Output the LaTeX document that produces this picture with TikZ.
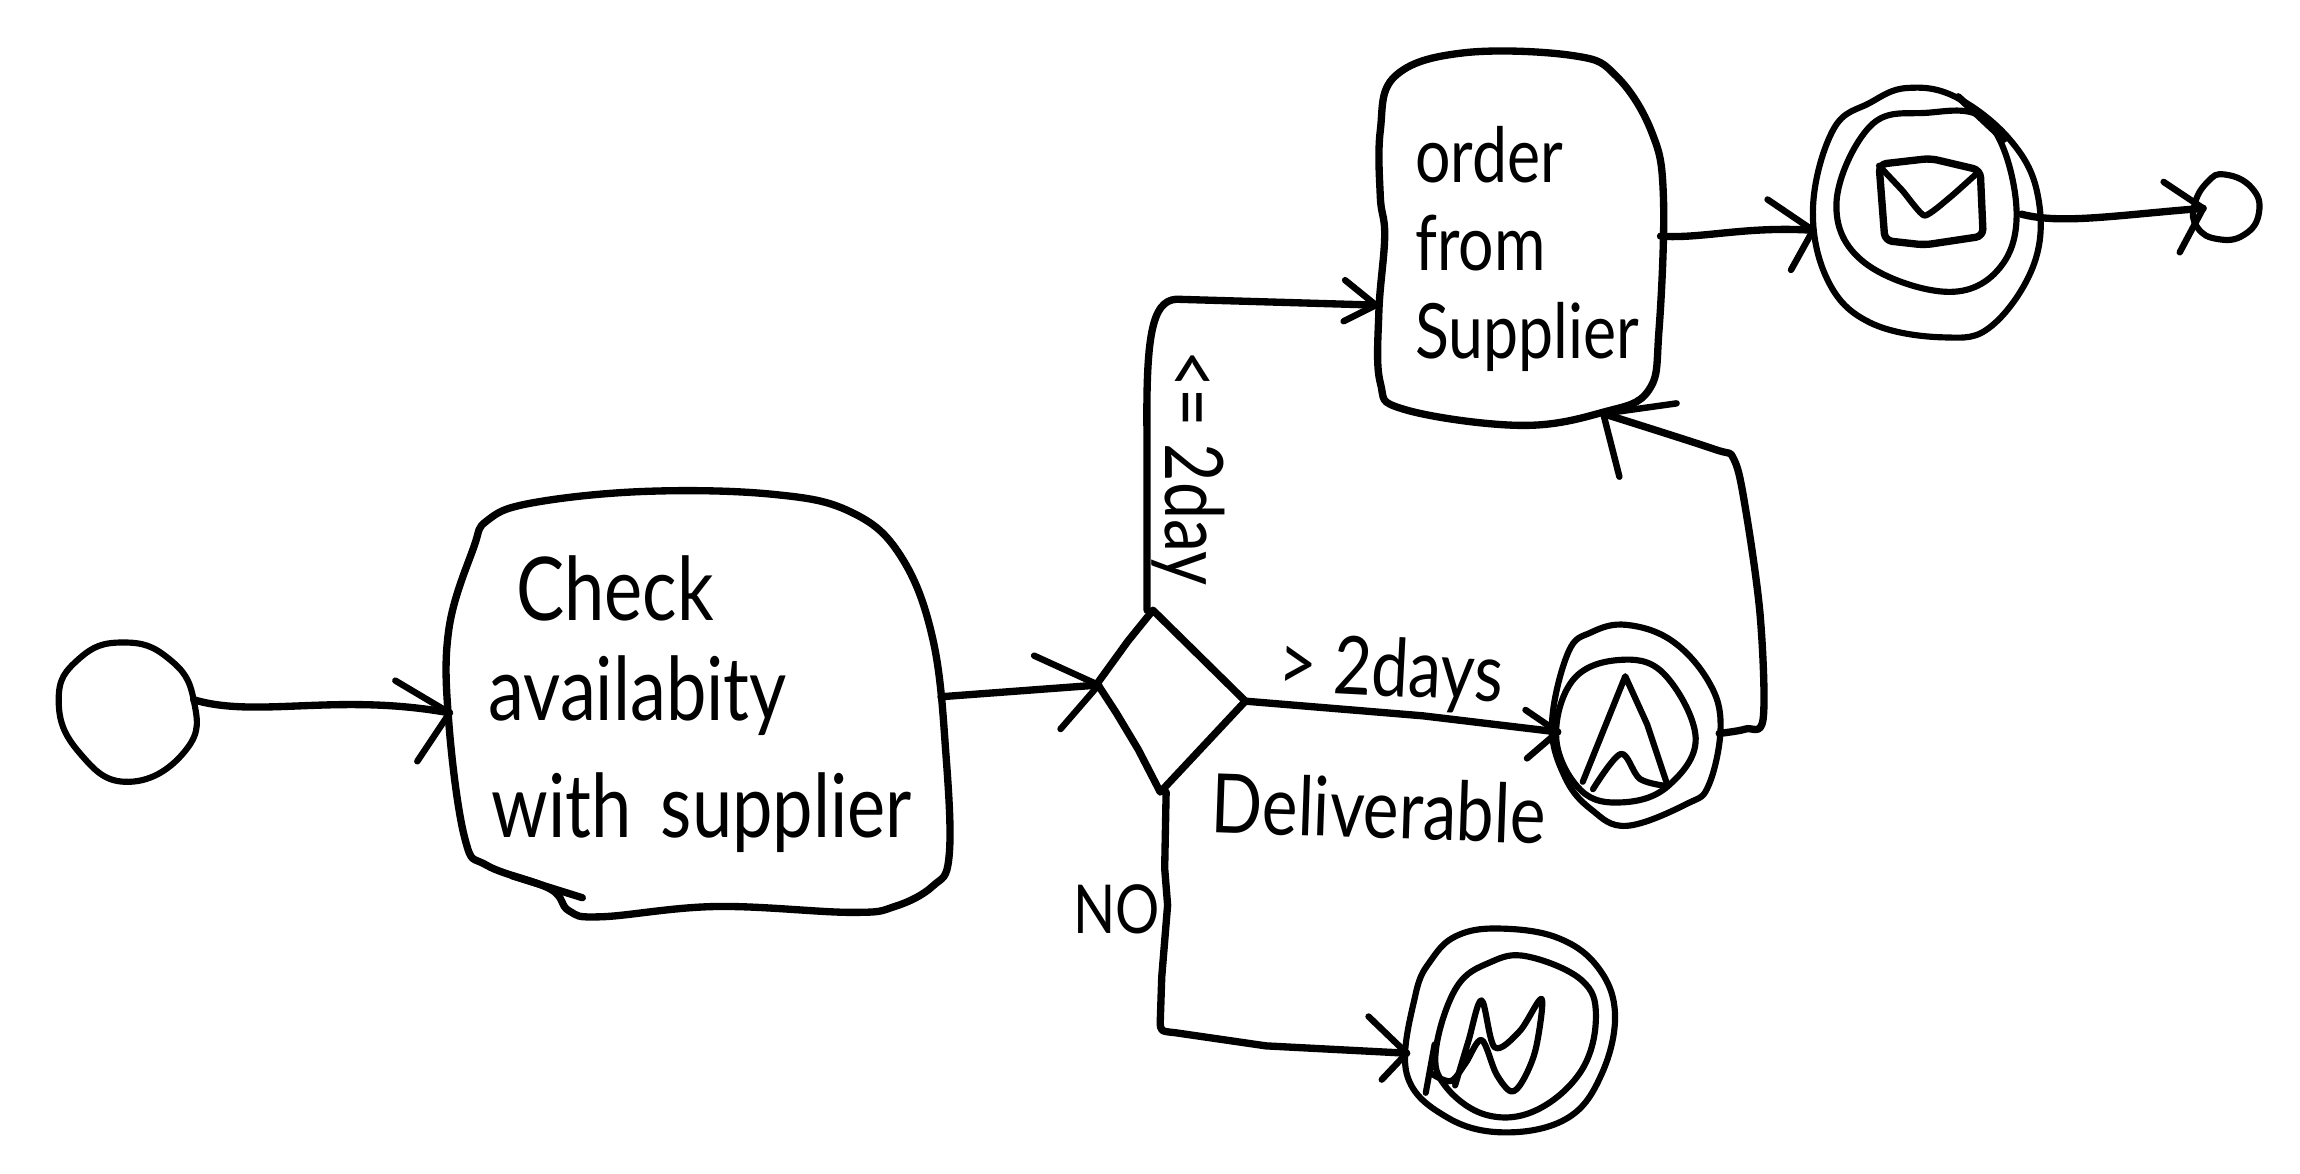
\documentclass[tikz,border=0pt]{standalone}
\usepackage{fontspec}
\setmainfont{Lato}
\newfontfamily\hand[FakeStretch=0.82]{Lato}
\newcommand{\handsz}[1]{\fontsize{#1}{#1}\selectfont\hand}
\tikzset{
  ink/.style={line width=5pt,line cap=round,line join=round,black},
  thinink/.style={line width=4.2pt,line cap=round,line join=round,black},
  flow/.style={ink},
  barb/.style={line width=4.4pt,line cap=round,line join=round,black},
  anchorbox/.style={draw=none,inner sep=0pt,outer sep=0pt,rectangle},
  tasktext/.style={anchorbox,align=left,text=black},
  lbl/.style={inner sep=0pt,outer sep=0pt,text=black},
  loop/.style={smooth cycle,tension=0.65},
  wave/.style={smooth,tension=0.55}
}
\begin{document}
\begin{tikzpicture}[x=1pt,y=-1pt]
\useasboundingbox (0,0) rectangle (1568,800);

% named nodes (their outlines are hand-drawn below)
\node[anchorbox,minimum width=92pt,minimum height=96pt] (start) at (86,485) {};
\node[tasktext,minimum width=335pt,minimum height=290pt,text width=310pt,font=\handsz{60}] (check) at (474,480)
  {\hspace*{33pt}Check\\[8pt]\hspace*{14pt}availabity\\[20pt]\hspace*{16pt}with supplier};
\node[tasktext,minimum width=194pt,minimum height=255pt,text width=170pt,font=\handsz{52}] (order) at (1035,170)
  {\hspace*{15pt}order\\[8pt]\hspace*{15pt}from\\[8pt]\hspace*{15pt}Supplier};
\node[anchorbox,minimum width=100pt,minimum height=124pt] (gate) at (799,478) {};
\node[anchorbox,minimum width=152pt,minimum height=170pt] (mail) at (1312,146) {};
\node[anchorbox,minimum width=44pt,minimum height=46pt] (finish) at (1518,142) {};
\node[anchorbox,minimum width=114pt,minimum height=136pt] (comp) at (1115,494) {};
\node[anchorbox,minimum width=142pt,minimum height=140pt] (stop) at (1030,702) {};

% outlines
\draw[thinink] plot[smooth cycle,tension=0.8] coordinates {(84,438) (115,449) (132,477) (127,511) (88,533) (54,513) (40,477) (54,449)};
\draw[ink] plot[loop] coordinates {(332,355) (362,343) (440,335) (527,337) (580,349) (614,379) (636,436) (645,516) (647,584) (636,604) (610,618) (580,622) (488,618) (410,625) (388,621) (375,606) (332,590) (317,572) (306,493) (306,429) (323,373)};
\draw[ink] (349,597) -- (397,612);
\draw[ink] plot[loop] coordinates {(941,89) (951,52) (998,36) (1073,38) (1102,52) (1126,90) (1134,134) (1131,225) (1124,266) (1093,281) (1036,290) (957,279) (941,261) (940,213) (944,161) (941,134)};
\draw[ink] (786,416) -- (849,478) -- (791,540) -- (776,511) -- (761,486) -- (748,466) -- (769,437) -- cycle;

% message event
\draw[thinink] plot[loop] coordinates {(1300,60) (1333,66) (1370,95) (1389,132) (1387,179) (1358,222) (1325,230) (1275,220) (1246,191) (1236,141) (1250,88) (1275,70)};
\draw[thinink] plot[loop] coordinates {(1312,77) (1354,82) (1374,134) (1366,179) (1329,199) (1271,179) (1252,138) (1275,86)};
\draw[ink] (1335,66) -- (1366,95);
\draw[ink,rounded corners=5pt] (1281,112) -- (1316,108) -- (1350,116) -- (1352,161) -- (1312,167) -- (1285,164) -- cycle;
\draw[thinink] plot[smooth,tension=0.3] coordinates {(1281,113) (1297,130) (1312,147) (1330,134) (1349,117)};
% finish event
\draw[thinink] plot[smooth cycle,tension=0.8] coordinates {(1517,119) (1535,128) (1540,145) (1530,160) (1512,163) (1498,155) (1496,140) (1505,124)};

% compensation event
\draw[thinink] plot[loop] coordinates {(1109,426) (1140,437) (1165,465) (1173,495) (1165,535) (1150,548) (1109,563) (1085,552) (1067,530) (1058,494) (1069,445) (1085,431)};
\draw[thinink] plot[loop] coordinates {(1103,450) (1134,459) (1156,503) (1137,536) (1106,547) (1078,539) (1061,504) (1072,464)};
\draw[thinink] (1079,533) -- (1108,461) -- (1123,494) -- (1136,533);
\draw[thinink] plot[wave] coordinates {(1086,538) (1105,514) (1118,531) (1137,536)};

% stop event
\draw[thinink] plot[loop] coordinates {(1021,633) (1061,639) (1089,659) (1101,691) (1092,732) (1069,762) (1027,772) (987,762) (959,732) (965,678) (976,654) (993,638)};
\draw[thinink] plot[loop] coordinates {(1041,652) (1078,668) (1088,693) (1078,730) (1047,757) (1013,760) (985,740) (979,715) (993,673) (1016,656)};
\draw[thinink] plot[wave] coordinates {(976,732) (989,737) (999,725) (1010,709) (1020,732) (1030,744) (1038,737) (1047,715) (1051,681) (1036,703) (1019,714) (1010,682) (1001,710) (992,740)};
\draw[thinink] (972,745) -- (978,712);

% connectors
\draw[flow] (start.east) ++(0,-8) .. controls (175,490) and (230,472) .. ([yshift=-6pt]check.west);
\draw[barb] ([yshift=-6pt]check.west) ++(-37,-22) -- ([yshift=-6pt]check.west) -- ++(-22,33);

\draw[flow] ([yshift=5pt]check.east) -- ([yshift=11pt]gate.west);
\draw[barb] ([yshift=11pt]gate.west) ++(-44,-20) -- ([yshift=11pt]gate.west) -- ++(-26,30);

\draw[flow] (gate.north) ++(-17,0) -- ++(0,-115) .. controls (781,230) and (785,205) .. (802,204) -- ([yshift=-38pt]order.west);
\draw[barb] ([yshift=-38pt]order.west) ++(-21,-17) -- ([yshift=-38pt]order.west) -- ++(-22,11);

\draw[flow] (gate.east) -- (970,488) -- ([yshift=-5pt,xshift=4pt]comp.west);
\draw[barb] ([yshift=-5pt,xshift=4pt]comp.west) ++(-22,-15) -- ([yshift=-5pt,xshift=4pt]comp.west) -- ++(-21,18);

\draw[flow] (gate.south) ++(-4,0) -- (794,592) -- (796,617) -- (792,666) -- (791,696) .. controls (791,703) .. (801,704) -- (863,713) -- ([yshift=-16pt]stop.west);
\draw[barb] ([yshift=-16pt]stop.west) ++(-26,-25) -- ([yshift=-16pt]stop.west) -- ++(-17,18);

\draw[flow] plot[wave] coordinates {(1172,500) (1190,497) (1202,490) (1200,420) (1190,347) (1182,313) (1168,306) (1093,282)};
\draw[barb] (1143,275) -- (1093,282) -- (1104,325);

\draw[flow] ([yshift=9pt]order.east) .. controls (1160,163) and (1190,154) .. ([yshift=-11pt]mail.west);
\draw[barb] ([yshift=-11pt]mail.west) ++(-31,-21) -- ([yshift=-11pt]mail.west) -- ++(-15,27);

\draw[flow] (1378,146) .. controls (1405,153) and (1440,147) .. ([xshift=6pt]finish.west);
\draw[barb] ([xshift=6pt]finish.west) ++(-27,-18) -- ([xshift=6pt]finish.west) -- ++(-16,30);

% labels
\node[lbl,rotate=-90,font=\handsz{55}] (lblup) at (810,319) {<= 2day};
\node[lbl,rotate=-3,font=\handsz{55},anchor=center] (lblgt) at (948,459) {> 2days};
\node[lbl,rotate=-2,font=\handsz{56}] (lbldel) at (940,551) {Deliverable};
\node[lbl,font=\handsz{46}] (lblno) at (761,620) {NO};
\end{tikzpicture}
\end{document}
